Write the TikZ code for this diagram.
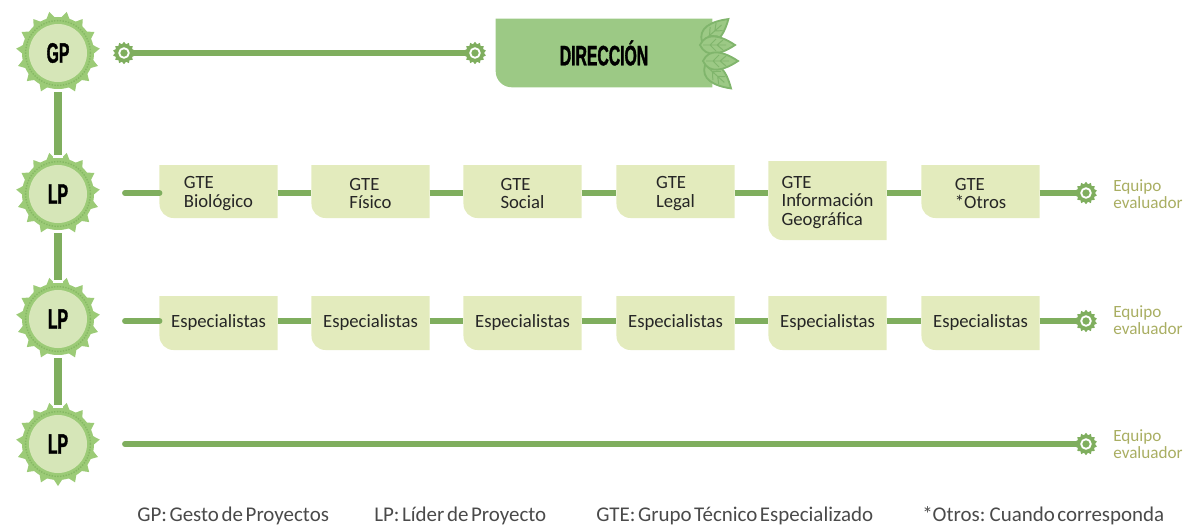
\documentclass[tikz,border=0pt]{standalone}
\usepackage{fontspec}
\setmainfont{Carlito}
\newfontfamily\headfont[FakeStretch=0.56,FakeBold=1.2]{Liberation Sans}
\newfontfamily\notefont[WordSpace=0.55]{Carlito}
\usetikzlibrary{backgrounds, positioning, shapes, shapes.geometric}
\definecolor{barG}{HTML}{7FAE5E}
\definecolor{ringG}{HTML}{9CCB77}
\definecolor{dotG}{HTML}{86B864}
\definecolor{coreG}{HTML}{D6E6B8}
\definecolor{boxG}{HTML}{E3EBBD}
\definecolor{headG}{HTML}{9CC985}
\definecolor{leafE}{HTML}{80B56C}
\definecolor{teamG}{HTML}{A9AE62}
\definecolor{noteG}{HTML}{4A4A4A}
\tikzset{
    bar/.style={draw=barG, line width=4.2pt},
    barV/.style={draw=barG, line width=5pt, shorten <=2pt, shorten >=2pt, preaction={draw=white, line width=6.5pt, shorten <=0pt, shorten >=0pt}},
    gearBig/.style={circle, fill=ringG, inner sep=0pt, minimum size=1.8cm},
    gearRing/.style={circle, draw=dotG, densely dotted, line width=1pt, inner sep=0pt, minimum size=1.62cm},
    gearCore/.style={circle, fill=coreG, inner sep=0pt, minimum size=1.45cm, font=\headfont\bfseries\fontsize{20pt}{20pt}\selectfont},
    gearSmall/.style={star, star points=14, star point ratio=1.25, fill=barG, inner sep=0pt, minimum size=0.56cm},
    gearHole/.style={circle, draw=white, fill=barG, line width=1.3pt, inner sep=0pt, minimum size=0.24cm},
    gtebox/.style={align=left, inner sep=0pt, outer sep=0pt, minimum width=2.95cm, text=black!85, font=\fontsize{13.3pt}{13.4pt}\selectfont},
    team/.style={align=left, anchor=west, inner sep=0pt, text=teamG, font=\fontsize{12.2pt}{12.2pt}\selectfont},
    note/.style={inner sep=0pt, text=noteG, font=\notefont\fontsize{14.9pt}{15pt}\selectfont},
}
\newcommand{\biggear}[4]{
    \node[gearBig] (#1) at (#2,#3) {};
    \foreach \a in {90,114,...,426}
        \fill[ringG] ([shift={({\a-8}:35)}]#1.center) -- ([shift={(\a:42)}]#1.center) -- ([shift={({\a+8}:35)}]#1.center) -- cycle;
    \node[gearRing] (#1ring) at (#1) {};
    \node[gearCore] (#1core) at (#1) {#4};
}
\newcommand{\smallgear}[3]{
    \node[gearSmall] (#1) at (#2,#3) {};
    \node[gearHole] (#1hole) at (#1) {};
}
\newcommand{\gtenode}[6][0]{
    \node[gtebox, minimum height=#5*0.025cm] (#2) at (#3,#4) {#6};
    \begin{scope}[on background layer]
    \fill[boxG] ([yshift=#1*0.025cm]#2.north west) -- ([yshift=#1*0.025cm]#2.north east) -- ([yshift=#1*0.025cm]#2.south east) [rounded corners=0.35cm] -- ([yshift=#1*0.025cm]#2.south west) [sharp corners] -- cycle;
    \end{scope}
}
\begin{document}
\begin{tikzpicture}[x=0.025cm, y=-0.025cm]
    \useasboundingbox (0,0) rectangle (1185,528);
    % gears on the left
    \biggear{gp}{58}{53}{GP\hspace{4pt}}
    \biggear{lpa}{58}{194}{LP}
    \biggear{lpb}{58}{319}{LP}
    \biggear{lpc}{58}{444}{LP}
    \draw[barV] (gp) -- (lpa);
    \draw[barV] (lpa) -- (lpb);
    \draw[barV] (lpb) -- (lpc);
    % top row
    \smallgear{gpfrom}{124}{53}
    \smallgear{gpto}{475}{53}
    \draw[bar] (gpfrom) -- (gpto);
    \node[inner sep=0pt, minimum width=5.4cm, minimum height=1.7cm, font=\headfont\bfseries\fontsize{20pt}{20pt}\selectfont] (dir) at (604,53) {DIRECCIÓN};
    \begin{scope}[on background layer]
    \fill[headG] (dir.north west) -- (dir.north east) -- (dir.south east) [rounded corners=0.4cm] -- (dir.south west) [sharp corners] -- cycle;
    \end{scope}
    \foreach \lx/\ly/\la in {702/42/41, 705/65/-42, 700/45/0, 703/61/0}{
        \begin{scope}[shift={(\lx,\ly)}, rotate=\la]
        \draw[fill=headG, draw=leafE, line width=1.3pt] (0,0) .. controls (6,-13) and (20,-10) .. (35,0) .. controls (20,10) and (6,13) .. (0,0) -- cycle;
        \draw[leafE, line width=.7pt] (3,0) -- (26,0) (10,0) -- (16,-6) (10,0) -- (16,6) (17,0) -- (23,-5) (17,0) -- (23,5);
        \end{scope}
    }
    % row of GTE boxes
    \coordinate (rowa) at (125,193);
    \gtenode[2]{gtea}{218.5}{193.5}{53}{GTE\\Biológico}
    \gtenode[2]{gteb}{370.5}{193.5}{53}{GTE\\Físico}
    \gtenode[2]{gtec}{522.5}{193.5}{53}{GTE\\Social}
    \gtenode[2]{gted}{675.5}{193.5}{53}{GTE\\Legal}
    \gtenode[2]{gtee}{827.5}{202.5}{79}{GTE\\Información\\Geográfica}
    \gtenode[2]{gtef}{980.5}{193.5}{53}{GTE\\*Otros}
    \smallgear{enda}{1086}{193}
    \draw[bar, line cap=round] (rowa) -- (gtea.west |- rowa);
    \foreach \p/\q in {gtea/gteb, gteb/gtec, gtec/gted, gted/gtee, gtee/gtef}
        \draw[bar] (\p.east |- rowa) -- (\q.west |- rowa);
    \draw[bar] (gtef.east |- rowa) -- (enda);
    \node[team] (teama) at (1113,194.5) {Equipo\\evaluador};
    % row of specialists
    \coordinate (rowb) at (125,321);
    \gtenode{espa}{218.5}{323}{54}{Especialistas}
    \gtenode{espb}{370.5}{323}{54}{Especialistas}
    \gtenode{espc}{522.5}{323}{54}{Especialistas}
    \gtenode{espd}{675.5}{323}{54}{Especialistas}
    \gtenode{espe}{827.5}{323}{54}{Especialistas}
    \gtenode{espf}{980.5}{323}{54}{Especialistas}
    \smallgear{endb}{1086}{321}
    \draw[bar, line cap=round] (rowb) -- (espa.west |- rowb);
    \foreach \p/\q in {espa/espb, espb/espc, espc/espd, espd/espe, espe/espf}
        \draw[bar] (\p.east |- rowb) -- (\q.west |- rowb);
    \draw[bar] (espf.east |- rowb) -- (endb);
    \node[team] (teamb) at (1113,320.5) {Equipo\\evaluador};
    % last row
    \coordinate (rowc) at (125,444);
    \smallgear{endc}{1086}{444}
    \draw[bar, line cap=round] (rowc) -- (endc);
    \node[team] (teamc) at (1113,444.5) {Equipo\\evaluador};
    % legend
    \node[note, anchor=west] (notea) at (137,516) {GP: Gesto de Proyectos};
    \node[note, anchor=west] (noteb) at (374,516) {LP: Líder de Proyecto};
    \node[note, anchor=west] (notec) at (596,516) {GTE: Grupo Técnico Especializado};
    \node[note, anchor=west] (noted) at (922,516) {*Otros: Cuando corresponda};
\end{tikzpicture}
\end{document}
